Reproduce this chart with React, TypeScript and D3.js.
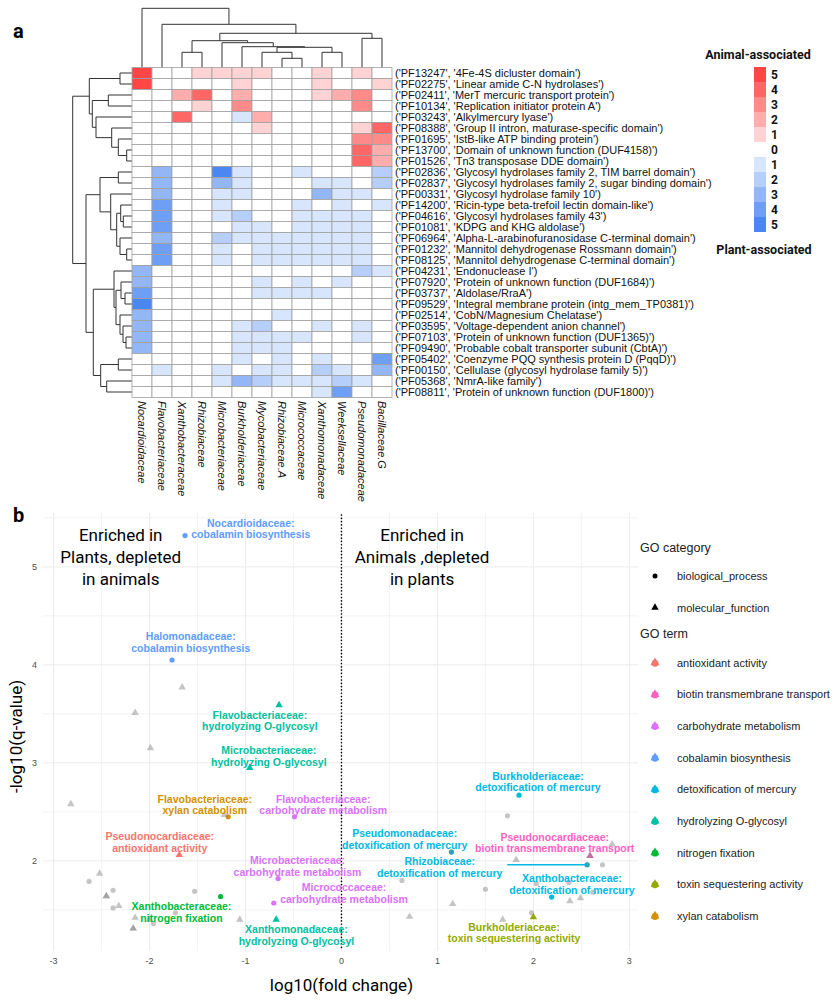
import React from 'react';
import * as d3 from 'd3';

// ---------- panel a: heatmap data ----------
const families = ['Nocardioidaceae', 'Flavobacteriaceae', 'Xanthobacteraceae', 'Rhizobiaceae', 'Microbacteriaceae', 'Burkholderiaceae', 'Mycobacteriaceae', 'Rhizobiaceae.A', 'Micrococcaceae', 'Xanthomonadaceae', 'Weeksellaceae', 'Pseudomonadaceae', 'Bacillaceae.G'];

const domains = [
  "('PF13247', '4Fe-4S dicluster domain')",
  "('PF02275', 'Linear amide C-N hydrolases')",
  "('PF02411', 'MerT mercuric transport protein')",
  "('PF10134', 'Replication initiator protein A')",
  "('PF03243', 'Alkylmercury lyase')",
  "('PF08388', 'Group II intron, maturase-specific domain')",
  "('PF01695', 'IstB-like ATP binding protein')",
  "('PF13700', 'Domain of unknown function (DUF4158)')",
  "('PF01526', 'Tn3 transposase DDE domain')",
  "('PF02836', 'Glycosyl hydrolases family 2, TIM barrel domain')",
  "('PF02837', 'Glycosyl hydrolases family 2, sugar binding domain')",
  "('PF00331', 'Glycosyl hydrolase family 10')",
  "('PF14200', 'Ricin-type beta-trefoil lectin domain-like')",
  "('PF04616', 'Glycosyl hydrolases family 43')",
  "('PF01081', 'KDPG and KHG aldolase')",
  "('PF06964', 'Alpha-L-arabinofuranosidase C-terminal domain')",
  "('PF01232', 'Mannitol dehydrogenase Rossmann domain')",
  "('PF08125', 'Mannitol dehydrogenase C-terminal domain')",
  "('PF04231', 'Endonuclease I')",
  "('PF07920', 'Protein of unknown function (DUF1684)')",
  "('PF03737', 'Aldolase/RraA')",
  "('PF09529', 'Integral membrane protein (intg_mem_TP0381)')",
  "('PF02514', 'CobN/Magnesium Chelatase')",
  "('PF03595', 'Voltage-dependent anion channel')",
  "('PF07103', 'Protein of unknown function (DUF1365)')",
  "('PF09490', 'Probable cobalt transporter subunit (CbtA)')",
  "('PF05402', 'Coenzyme PQQ synthesis protein D (PqqD)')",
  "('PF00150', 'Cellulase (glycosyl hydrolase family 5)')",
  "('PF05368', 'NmrA-like family')",
  "('PF08811', 'Protein of unknown function (DUF1800)')",
];

// + animal-associated, - plant-associated
const enrichment = [
  [5, 0, 0, 1, 1, 1, 1, 0, 0, 1, 0, 1, 0],
  [5, 0, 0, 0, 0, 1, 0, 0, 0, 1, 0, 0, 1],
  [0, 0, 2, 4, 0, 2, 0, 0, 0, 1, 2, 3, 0],
  [0, 0, 0, 1, 0, 3, 0, 0, 0, 0, 0, 3, 0],
  [0, 0, 4, 0, 0, -1, 2, 0, 0, 0, 0, 0, 0],
  [0, 0, 0, 0, 0, 0, 1, 0, 0, 0, 0, 1, 4],
  [0, 0, 0, 0, 0, 0, 0, 0, 0, 0, 0, 3, 3],
  [0, 0, 0, 0, 0, 0, 0, 0, 0, 0, 0, 4, 2],
  [0, 0, 0, 0, 0, 0, 0, 0, 0, 0, 0, 4, 2],
  [0, -3, 0, 0, -5, -1, 0, 0, -1, 0, 0, 0, -2],
  [0, -3, 0, 0, -3, -1, 0, 0, 0, -1, -1, 0, -2],
  [0, -3, 0, 0, -1, -1, 0, 0, 0, -3, -1, -1, 0],
  [0, -4, 0, 0, -1, 0, 0, 0, -1, 0, -1, 0, -1],
  [0, -4, 0, 0, -1, -2, 0, 0, -1, -1, -1, -1, 0],
  [0, -4, 0, 0, 0, -1, -1, 0, -1, -1, -1, -1, 0],
  [0, -3, 0, 0, -2, -1, -1, -1, -1, -1, -1, -1, 0],
  [0, -4, 0, 0, -1, 0, -1, -1, -1, -1, -1, -1, 0],
  [0, -4, 0, 0, -1, 0, -1, -1, -1, -1, -1, -1, 0],
  [-3, 0, 0, 0, 0, 0, 0, 0, 0, 0, 0, -2, -1],
  [-3, 0, 0, 0, 0, 0, -1, 0, -1, 0, -1, 0, 0],
  [-4, 0, 0, 0, 0, 0, -1, -1, -1, -1, 0, 0, 0],
  [-5, 0, 0, 0, 0, 0, 0, 0, 0, 0, 0, 0, 0],
  [-3, 0, 0, 0, 0, 0, 0, -1, 0, 0, 0, 0, 0],
  [-3, 0, 0, 0, 0, -1, -2, 0, 0, -1, 0, -1, 0],
  [-3, 0, 0, 0, 0, -1, -1, -1, -1, 0, 0, -1, 0],
  [-3, 0, 0, 0, 0, -1, -1, -1, 0, 0, 0, 0, 0],
  [0, 0, 0, 0, 0, -1, 0, -1, 0, -1, 0, 0, -4],
  [0, -1, 0, 0, -1, 0, -1, -1, 0, -2, -1, 0, -3],
  [0, 0, 0, 0, -1, -3, -2, -1, -1, -1, -2, -1, 0],
  [0, 0, 0, 0, 0, 0, 0, 0, 0, -1, -4, 0, 0],
];

// dendrograms: leaf = index, node = [mergeHeight, left, right]
type Tree = number | [number, Tree, Tree];
const colTree: Tree = [59.2, 0, [43.2, 1, [34.2, [26.8, [15.2, 2, 3], [24.8, 4, [20.8, 5, [20.2, [15.2, 6, [9.2, 7, 8]], [15.2, 9, 10]]]]], [29.2, 11, 12]]]];
const rowTree: Tree = [59.3,
  [42.7, [12, 0, 1], [39.7, [23.7, 2, 3], [36, 4, [20.3, 5, [13.7, 6, [5.3, 7, 8]]]]]],
  [46,
    [32, [13.7, 9, 10], [21.3, 11, [15.3, [11.3, 12, [8.7, 13, 14]], [12, 15, [5.3, 16, 17]]]]],
    [38.7, [18, 18, [16, [11, 19, [7, 20, 21]], [12, 22, [9, 23, [6, 24, 25]]]]], [31.3, [13.7, 26, 27], [25.3, 28, 29]]]]];

const animalShades = ['#ffd3d3', '#ffadad', '#ff8a8a', '#ff6767', '#ff4646'];
const plantShades = ['#d7e6fc', '#b5cefa', '#93b6f7', '#6f9ef5', '#4b87f3'];
const legendLevels = [5, 4, 3, 2, 1, 0, -1, -2, -3, -4, -5];

// ---------- panel b: scatter data ----------
const goTerms = ['antioxidant activity', 'biotin transmembrane transport', 'carbohydrate metabolism', 'cobalamin biosynthesis', 'detoxification of mercury', 'hydrolyzing O-glycosyl', 'nitrogen fixation', 'toxin sequestering activity', 'xylan catabolism'];
const goColors = ['#F8766D', '#FF61C3', '#DB72FB', '#619CFF', '#00B9E3', '#00C19F', '#00BA38', '#93AA00', '#D39200'];

const hitFamily = ['Nocardioidaceae', 'Halomonadaceae', 'Flavobacteriaceae', 'Microbacteriaceae', 'Flavobacteriaceae', 'Flavobacteriaceae', 'Pseudonocardiaceae', 'Microbacteriaceae', 'Micrococcaceae', 'Xanthobacteraceae', 'Xanthomonadaceae', 'Burkholderiaceae', 'Pseudomonadaceae', 'Rhizobiaceae', 'Pseudonocardiaceae', 'Xanthobacteraceae', 'Burkholderiaceae'];
const hitTerm = [3, 3, 5, 5, 8, 2, 0, 2, 2, 6, 5, 4, 4, 4, 1, 4, 7];
const hitShape = ['c', 'c', 't', 't', 'c', 'c', 't', 'c', 'c', 'c', 't', 'c', 'c', 'c', 't', 'c', 't'];
const hitFold = [-1.63, -1.765, -0.65, -0.955, -1.18, -0.49, -1.69, -0.66, -0.705, -1.26, -0.68, 1.85, 1.146, 2.56, 2.59, 2.19, 2.0];
const hitQ = [5.32, 4.05, 3.59, 2.95, 2.45, 2.45, 2.06, 1.82, 1.57, 1.635, 1.40, 2.67, 2.09, 1.96, 2.05, 1.63, 1.425];
const labelFold = [-0.945, -1.57, -0.85, -0.757, -1.424, -0.19, -1.893, -0.458, 0.027, -1.667, -0.469, 2.048, 0.659, 1.024, 2.222, 2.402, 1.798];
const labelQ = [5.39, 4.235, 3.434, 3.073, 2.577, 2.577, 2.19, 1.95, 1.67, 1.48, 1.245, 2.808, 2.222, 1.937, 2.189, 1.763, 1.27];
const labelSegment = [false, false, false, false, false, false, false, false, false, false, false, false, false, true, false, false, false];

const bgFold = [-1.66, -2.15, -1.99, -2.82, -1.22, -2.52, -2.63, -2.38, -2.45, -2.45, -2.38, -2.32, -2.15, -2.17, -2.17, -2.0, -1.96, -1.73, -1.53, -1.06,
  1.73, 1.82, 2.72, 2.82, 0.63, 1.50, 2.03, 2.37, 2.62, 1.16, 0.71, 1.68, 1.98, 2.38, 2.49, 1.146, 2.56, 2.59];
const bgQ = [3.77, 3.51, 3.15, 2.58, 2.47, 1.87, 1.79, 1.70, 1.64, 1.64, 1.52, 1.54, 1.42, 1.31, 1.31, 1.40, 1.36, 1.47, 1.69, 1.40,
  2.46, 2.01, 1.96, 2.17, 1.80, 1.71, 1.77, 1.78, 1.68, 1.56, 1.43, 1.40, 1.47, 1.59, 1.62, 2.09, 1.96, 2.05];
const bgShape = ['t', 't', 't', 't', 't', 't', 'c', 'c', 't', 't', 'c', 't', 't', 't', 't', 't', 'c', 'c', 'c', 't',
  'c', 't', 'c', 't', 'c', 'c', 'c', 'c', 'c', 't', 't', 't', 'c', 't', 't', 'c', 'c', 't'];

const xTicks = [-3, -2, -1, 0, 1, 2, 3];
const yTicks = [2, 3, 4, 5];

const sans = "'Liberation Sans', Arial, sans-serif";
const rob = "Roboto, 'Liberation Sans', sans-serif";

function layoutTree(t: Tree, leafPos: (i: number) => number, out: any[]): { p: number, h: number } {
  if (typeof t === 'number') return { p: leafPos(t), h: 0 };
  const [h, a, b] = t;
  const A = layoutTree(a, leafPos, out);
  const B = layoutTree(b, leafPos, out);
  out.push({ h, A, B });
  return { p: (A.p + B.p) / 2, h };
}

const tri = d3.symbol().type(d3.symbolTriangle);

const App = () => {
  // heatmap geometry
  const xBand = d3.scaleBand<number>().domain(d3.range(families.length)).range([132, 392]);
  const yBand = d3.scaleBand<number>().domain(d3.range(domains.length)).range([67.5, 397.5]);
  const fillFor = (v: number) => v > 0 ? animalShades[v - 1] : v < 0 ? plantShades[-v - 1] : '#ffffff';

  const colSegs: any[] = [];
  layoutTree(colTree, i => xBand(i)! + xBand.bandwidth() / 2, colSegs);
  const colH = d3.scaleLinear().domain([0, 59.2]).range([67.5, 8.3]);
  const rowSegs: any[] = [];
  layoutTree(rowTree, i => yBand(i)! + yBand.bandwidth() / 2, rowSegs);
  const rowH = d3.scaleLinear().domain([0, 59.3]).range([132, 72.7]);

  const legY = d3.scaleBand<number>().domain(legendLevels).range([67, 232]);

  // scatter
  const x = d3.scaleLinear().domain([-3.11, 3.09]).range([43, 638]);
  const y = d3.scaleLinear().domain([1.08, 5.55]).range([951, 513]);
  const xMinor = d3.range(-3, 3.01, 0.5);
  const yMinor = d3.range(1.5, 5.51, 0.5);

  const drawPoint = (shape: string, px: number, py: number, color: string, key: any, opacity = 1, tsize = 24, r = 2.6) =>
    shape === 'c'
      ? <circle key={key} cx={px} cy={py} r={r} fill={color} opacity={opacity} />
      : <path key={key} d={tri.size(tsize)()!} transform={`translate(${px},${py})`} fill={color} opacity={opacity} />;

  return (
    <svg width={837} height={1000} style={{ position: 'absolute', left: 0, top: 0, background: '#fff' }}>
      {/* ---------- panel a ---------- */}
      <text x={13} y={38} fontFamily={rob} fontWeight="bold" fontSize={20}>a</text>

      <g fill="none" stroke="#333" strokeWidth={1}>
        {colSegs.map((s, i) => (
          <path key={i} d={`M${s.A.p},${colH(s.A.h)}V${colH(s.h)}H${s.B.p}V${colH(s.B.h)}`} />
        ))}
        {rowSegs.map((s, i) => (
          <path key={i} d={`M${rowH(s.A.h)},${s.A.p}H${rowH(s.h)}V${s.B.p}H${rowH(s.B.h)}`} />
        ))}
      </g>

      <g>
        {enrichment.map((row, r) => row.map((v, c) => (
          <rect key={`${r}-${c}`} x={xBand(c)} y={yBand(r)} width={xBand.bandwidth()} height={yBand.bandwidth()}
            fill={fillFor(v)} stroke="#a0a0a0" strokeWidth={0.8} />
        )))}
      </g>

      <g fontFamily={sans} fontSize={11} fill="#111">
        {domains.map((d, r) => (
          <text key={d} x={395} y={yBand(r)! + yBand.bandwidth() / 2} dominantBaseline="central">{d}</text>
        ))}
        {families.map((f, c) => (
          <text key={f} transform={`translate(${xBand(c)! + xBand.bandwidth() / 2},401) rotate(90)`}
            dominantBaseline="central" fontStyle="italic">{f}</text>
        ))}
      </g>

      <g fontFamily={rob} fontWeight="bold" fontSize={12.5} fill="#111">
        <text x={758} y={59} textAnchor="middle">Animal-associated</text>
        {legendLevels.map(v => (
          <g key={v}>
            <rect x={754} y={legY(v)} width={12} height={legY.bandwidth()} fill={fillFor(v)} />
            <text x={771} y={legY(v)! + legY.bandwidth() / 2} dominantBaseline="central" fontSize={12}>{Math.abs(v)}</text>
          </g>
        ))}
        <text x={764} y={254} textAnchor="middle">Plant-associated</text>
      </g>

      {/* ---------- panel b ---------- */}
      <text x={13} y={522} fontFamily={rob} fontWeight="bold" fontSize={20}>b</text>

      <g stroke="#ebebeb">
        {xMinor.map(v => <line key={`vx${v}`} x1={x(v)} x2={x(v)} y1={513} y2={951} strokeWidth={Number.isInteger(v) ? 1 : 0.6} />)}
        {yMinor.map(v => <line key={`hy${v}`} x1={43} x2={638} y1={y(v)} y2={y(v)} strokeWidth={Number.isInteger(v) ? 1 : 0.6} />)}
      </g>

      <line x1={x(0)} x2={x(0)} y1={515} y2={950} stroke="#000" strokeWidth={1.6} strokeDasharray="0.1 3.2" strokeLinecap="round" />

      <g fontFamily={rob} fontSize={17} fill="#000" textAnchor="middle">
        {['Enriched in', 'Plants, depleted', 'in animals'].map((t, i) => (
          <text key={t} x={x(-2.3)} y={y(5.1) + (i - 1) * 22} dominantBaseline="central">{t}</text>
        ))}
        {['Enriched in', 'Animals ,depleted', 'in plants'].map((t, i) => (
          <text key={t} x={x(0.84)} y={y(5.1) + (i - 1) * 22} dominantBaseline="central">{t}</text>
        ))}
      </g>

      <g>
        {hitFold.map((f, i) => drawPoint(hitShape[i], x(f), y(hitQ[i]), goColors[hitTerm[i]], `h${i}`))}
        {bgFold.map((f, i) => drawPoint(bgShape[i], x(f), y(bgQ[i]), '#7f7f7f', `b${i}`, 0.45))}
      </g>

      <g fontFamily={sans} fontWeight="bold" fontSize={10.5} textAnchor="middle">
        {hitFamily.map((fam, i) => {
          const lx = x(labelFold[i]);
          const ly = y(labelQ[i]);
          const color = goColors[hitTerm[i]];
          const second = goTerms[hitTerm[i]];
          return (
            <g key={`l${i}`} fill={color}>
              {labelSegment[i] && (
                <line x1={lx + second.length * 2.7} x2={x(hitFold[i])} y1={y(hitQ[i])} y2={y(hitQ[i])} stroke={color} strokeWidth={1.3} />
              )}
              <text x={lx} y={ly - 5.8} dominantBaseline="central">{fam + ':'}</text>
              <text x={lx} y={ly + 5.8} dominantBaseline="central">{second}</text>
            </g>
          );
        })}
      </g>

      <g fontFamily={sans} fontSize={9} fill="#4d4d4d">
        {xTicks.map(v => <text key={v} x={x(v)} y={964} textAnchor="middle">{v}</text>)}
        {yTicks.map(v => <text key={v} x={37} y={y(v)} textAnchor="end" dominantBaseline="central">{v}</text>)}
      </g>
      <text x={x(0)} y={991} textAnchor="middle" fontFamily={rob} fontSize={17}>log10(fold change)</text>
      <text transform={`translate(22,${y(3.27)}) rotate(-90)`} textAnchor="middle" fontFamily={rob} fontSize={17}>-log10(q-value)</text>

      {/* legend b */}
      <g fontFamily={sans} fontSize={11} fill="#222">
        <text x={640} y={552} fontSize={12.5}>GO category</text>
        {drawPoint('c', 655, 576, '#000', 'lc', 1, 24, 2.5)}
        <text x={677} y={576} dominantBaseline="central">biological_process</text>
        {drawPoint('t', 655, 607.5, '#000', 'lt')}
        <text x={677} y={607.5} dominantBaseline="central">molecular_function</text>
        <text x={640} y={638} fontSize={12.5}>GO term</text>
        {goTerms.map((t, i) => {
          const cy = 662.7 + i * 31.65;
          return (
            <g key={t}>
              <circle cx={655} cy={cy + 0.6} r={3.4} fill={goColors[i]} />
              <path d={tri.size(34)()!} transform={`translate(655,${cy})`} fill={goColors[i]} />
              <text x={677} y={cy} dominantBaseline="central">{t}</text>
            </g>
          );
        })}
      </g>
    </svg>
  );
};

export default App;
